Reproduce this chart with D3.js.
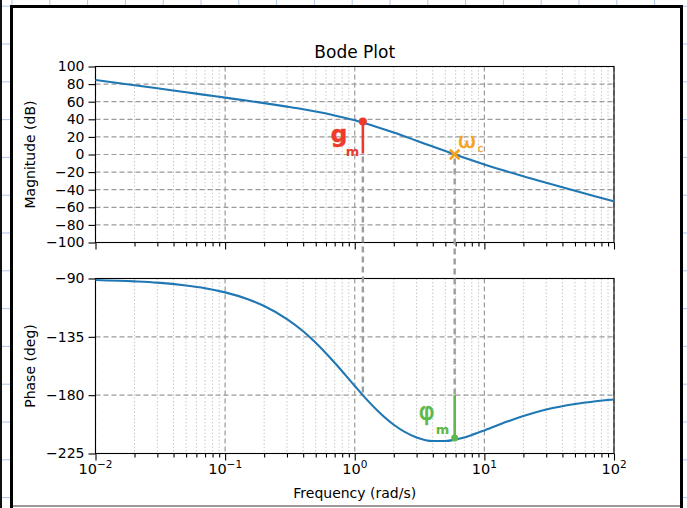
<!DOCTYPE html>
<html>
<head>
<meta charset="utf-8">
<script src="https://cdn.jsdelivr.net/npm/d3@7"></script>
<style>
body { margin: 0; background: #fff; }
text { font-family: "DejaVu Sans", sans-serif; }
</style>
</head>
<body>
<div id="chart"></div>
<script>
// frequency points (rad/s) and the values
var freq = [0.01, 0.02, 0.03, 0.05, 0.07, 0.1, 0.15, 0.2, 0.3, 0.4, 0.5, 0.7, 1, 1.2, 1.5, 2, 3, 4, 5, 6, 7, 8, 10, 15, 20, 30, 50, 70, 100];
var magnitude = [84.7, 78.7, 75.2, 70.7, 67.8, 64.6, 61.0, 58.4, 54.4, 51.4, 48.8, 44.4, 38.8, 35.5, 31.1, 25.0, 15.7, 9.0, 3.9, -0.3, -3.7, -6.6, -11.3, -19.3, -24.8, -32.1, -41.2, -47.1, -53.3];
var phase = [-91.1, -92.2, -93.2, -95.4, -97.5, -100.7, -106.0, -111.2, -121.3, -130.7, -139.6, -155.0, -172.9, -181.9, -192.0, -202.8, -212.6, -215.4, -215.4, -214.2, -212.6, -210.7, -207.2, -200.4, -196.1, -191.1, -186.8, -184.9, -183.4];

var magTicks = [100, 80, 60, 40, 20, 0, -20, -40, -60, -80, -100];
var phaseTicks = [-90, -135, -180, -225];
var decadeTicks = [0.01, 0.1, 1, 10, 100];
var decadeExp = ["\u22122", "\u22121", "0", "1", "2"];

// hand-drawn marks: gain margin at phase crossover, crossover frequency
var gmFreq = 1.155, gmMag = 37.5;
var wcFreq = 5.9, wcPhase = -213;

var svgWidth = 687, svgHeight = 508;

var svg = d3.select("#chart").append("svg")
  .attr("width", svgWidth)
  .attr("height", svgHeight);

// graph paper behind the frame
svg.append("rect").attr("width", svgWidth).attr("height", svgHeight).attr("fill", "#fff");
d3.range(0, 19).forEach(function(k) {
  svg.append("line").attr("x1", 12 + 37.8 * k).attr("x2", 12 + 37.8 * k)
    .attr("y1", 0).attr("y2", svgHeight).attr("stroke", "#aec6e8").attr("stroke-width", 1);
});
d3.range(-1, 13).forEach(function(k) {
  svg.append("line").attr("y1", 44 + 37.8 * k).attr("y2", 44 + 37.8 * k)
    .attr("x1", 0).attr("x2", svgWidth).attr("stroke", "#aec6e8").attr("stroke-width", 1);
});
svg.append("rect").attr("x", 0).attr("y", 0).attr("width", 2).attr("height", svgHeight).attr("fill", "#111");

// white page with black frame
svg.append("rect").attr("x", 10).attr("y", 5).attr("width", 673).attr("height", 503).attr("fill", "#fff");
svg.append("rect").attr("x", 10).attr("y", 5).attr("width", 3).attr("height", 503).attr("fill", "#000");
svg.append("rect").attr("x", 10).attr("y", 5).attr("width", 673).attr("height", 3).attr("fill", "#000");
svg.append("rect").attr("x", 680).attr("y", 5).attr("width", 3).attr("height", 503).attr("fill", "#000");
svg.append("rect").attr("x", 13).attr("y", 505).attr("width", 667).attr("height", 2).attr("fill", "#999");

var left = 95.5, right = 614;
var x = d3.scaleLog().domain([0.01, 100]).range([left, right]);
var yMag = d3.scaleLinear().domain([-100, 100]).range([242.5, 66.5]);
var yPh = d3.scaleLinear().domain([-225, -90]).range([453.5, 278.5]);

var minorTicks = x.ticks().filter(function(d) { return decadeTicks.indexOf(d) < 0; });

function panel(y, ticks) {
  var g = svg.append("g");
  var top = y.range()[1], bottom = y.range()[0];

  // minor grid
  g.selectAll(".minor").data(minorTicks).enter().append("line")
    .attr("x1", d => x(d)).attr("x2", d => x(d))
    .attr("y1", top).attr("y2", bottom)
    .attr("stroke", "#c8c8c8").attr("stroke-width", 1).attr("stroke-dasharray", "1.5,2");
  // major grid
  g.selectAll(".vmajor").data(decadeTicks).enter().append("line")
    .attr("x1", d => x(d)).attr("x2", d => x(d))
    .attr("y1", top).attr("y2", bottom)
    .attr("stroke", "#9a9a9a").attr("stroke-width", 1.2).attr("stroke-dasharray", "5,3");
  g.selectAll(".hmajor").data(ticks).enter().append("line")
    .attr("x1", left).attr("x2", right)
    .attr("y1", d => y(d)).attr("y2", d => y(d))
    .attr("stroke", "#9a9a9a").attr("stroke-width", 1.2).attr("stroke-dasharray", "5,3");

  // y axis
  var yAxis = g.append("g").attr("transform", `translate(${left},0)`)
    .call(d3.axisLeft(y).tickValues(ticks).tickSize(7).tickPadding(4).tickSizeOuter(0));
  yAxis.select(".domain").remove();
  yAxis.selectAll("text").attr("font-size", 14).attr("font-family", "DejaVu Sans").attr("fill", "#000");
  yAxis.selectAll("line").attr("stroke", "#000").attr("stroke-width", 1.1);

  // x ticks
  var xMajor = g.append("g").attr("transform", `translate(0,${bottom})`)
    .call(d3.axisBottom(x).tickValues(decadeTicks).tickSize(7).tickFormat("").tickSizeOuter(0));
  var xMinor = g.append("g").attr("transform", `translate(0,${bottom})`)
    .call(d3.axisBottom(x).tickValues(minorTicks).tickSize(4).tickFormat("").tickSizeOuter(0));
  [xMajor, xMinor].forEach(function(a) {
    a.select(".domain").remove();
    a.selectAll("line").attr("stroke", "#000").attr("stroke-width", 1.1);
  });

  // spines
  g.append("rect").attr("x", left).attr("y", top)
    .attr("width", right - left).attr("height", bottom - top)
    .attr("fill", "none").attr("stroke", "#000").attr("stroke-width", 1.1);
  return g;
}

var magPanel = panel(yMag, magTicks);
var phPanel = panel(yPh, phaseTicks);

var magLine = d3.line().x((d, i) => x(freq[i])).y(d => yMag(d)).curve(d3.curveMonotoneX);
var phLine = d3.line().x((d, i) => x(freq[i])).y(d => yPh(d)).curve(d3.curveMonotoneX);

magPanel.append("path").datum(magnitude).attr("d", magLine)
  .attr("fill", "none").attr("stroke", "#1f77b4").attr("stroke-width", 2.1);
phPanel.append("path").datum(phase).attr("d", phLine)
  .attr("fill", "none").attr("stroke", "#1f77b4").attr("stroke-width", 2.1);

// x tick labels with exponents
decadeTicks.forEach(function(d, i) {
  var t = svg.append("text").attr("x", x(d)).attr("y", 474)
    .attr("text-anchor", "middle").attr("font-size", 14.5).attr("fill", "#000");
  t.append("tspan").text("10");
  t.append("tspan").attr("dy", -6).attr("font-size", 10.5).text(decadeExp[i]);
});

// titles and axis labels
svg.append("text").attr("x", (left + right) / 2).attr("y", 58)
  .attr("text-anchor", "middle").attr("font-size", 17).text("Bode Plot");
svg.append("text").attr("x", (left + right) / 2).attr("y", 498)
  .attr("text-anchor", "middle").attr("font-size", 14).text("Frequency (rad/s)");
svg.append("text").attr("transform", `translate(35,${(66.5 + 242.5) / 2}) rotate(-90)`)
  .attr("text-anchor", "middle").attr("font-size", 14).text("Magnitude (dB)");
svg.append("text").attr("transform", `translate(35,${(278.5 + 453.5) / 2}) rotate(-90)`)
  .attr("text-anchor", "middle").attr("font-size", 14).text("Phase (deg)");

// hand-drawn annotations
var red = "#ee3a2c", orange = "#f5a21c", green = "#5cb84a";
var ann = svg.append("g");
ann.append("line").attr("x1", x(gmFreq)).attr("x2", x(gmFreq))
  .attr("y1", yMag(0) + 2).attr("y2", yPh(-180))
  .attr("stroke", "#9d9d9d").attr("stroke-width", 2.4).attr("stroke-dasharray", "6,4");
ann.append("line").attr("x1", x(wcFreq)).attr("x2", x(wcFreq))
  .attr("y1", yMag(0) + 4).attr("y2", yPh(-180))
  .attr("stroke", "#9d9d9d").attr("stroke-width", 2.4).attr("stroke-dasharray", "6,4");

// gain margin
ann.append("line").attr("x1", x(gmFreq)).attr("x2", x(gmFreq))
  .attr("y1", yMag(gmMag)).attr("y2", yMag(0) - 1)
  .attr("stroke", red).attr("stroke-width", 2.6);
ann.append("circle").attr("cx", x(gmFreq)).attr("cy", yMag(gmMag)).attr("r", 4).attr("fill", red);
ann.append("text").attr("x", x(gmFreq) - 32).attr("y", yMag(0) - 13)
  .attr("fill", red).attr("stroke", red).attr("stroke-width", 0.6)
  .attr("font-weight", "bold").attr("font-size", 23).text("g");
ann.append("text").attr("x", x(gmFreq) - 17).attr("y", yMag(0) + 1)
  .attr("fill", red).attr("font-weight", "bold").attr("font-size", 13).text("m");

// crossover frequency
var cx0 = x(wcFreq), cy0 = yMag(0);
[[-4, -4, 4, 4], [-4, 4, 4, -4]].forEach(function(p) {
  ann.append("line").attr("x1", cx0 + p[0]).attr("y1", cy0 + p[1])
    .attr("x2", cx0 + p[2]).attr("y2", cy0 + p[3])
    .attr("stroke", orange).attr("stroke-width", 2.6).attr("stroke-linecap", "round");
});
ann.append("text").attr("x", cx0 + 3).attr("y", cy0 - 7)
  .attr("fill", orange).attr("stroke", orange).attr("stroke-width", 0.5)
  .attr("font-size", 22).text("\u03c9");
ann.append("text").attr("x", cx0 + 23).attr("y", cy0 - 3)
  .attr("fill", orange).attr("stroke", orange).attr("stroke-width", 0.3)
  .attr("font-size", 10).text("c");

// phase margin
ann.append("line").attr("x1", x(wcFreq)).attr("x2", x(wcFreq))
  .attr("y1", yPh(-180)).attr("y2", yPh(wcPhase))
  .attr("stroke", green).attr("stroke-width", 2.6);
ann.append("circle").attr("cx", x(wcFreq)).attr("cy", yPh(wcPhase)).attr("r", 3.5).attr("fill", green);
ann.append("text").attr("x", x(wcFreq) - 36).attr("y", yPh(-180) + 25)
  .attr("fill", green).attr("stroke", green).attr("stroke-width", 0.6)
  .attr("font-size", 24).text("\u03c6");
ann.append("text").attr("x", x(wcFreq) - 19).attr("y", yPh(-180) + 39)
  .attr("fill", green).attr("font-weight", "bold").attr("font-size", 13).text("m");
</script>
</body>
</html>
